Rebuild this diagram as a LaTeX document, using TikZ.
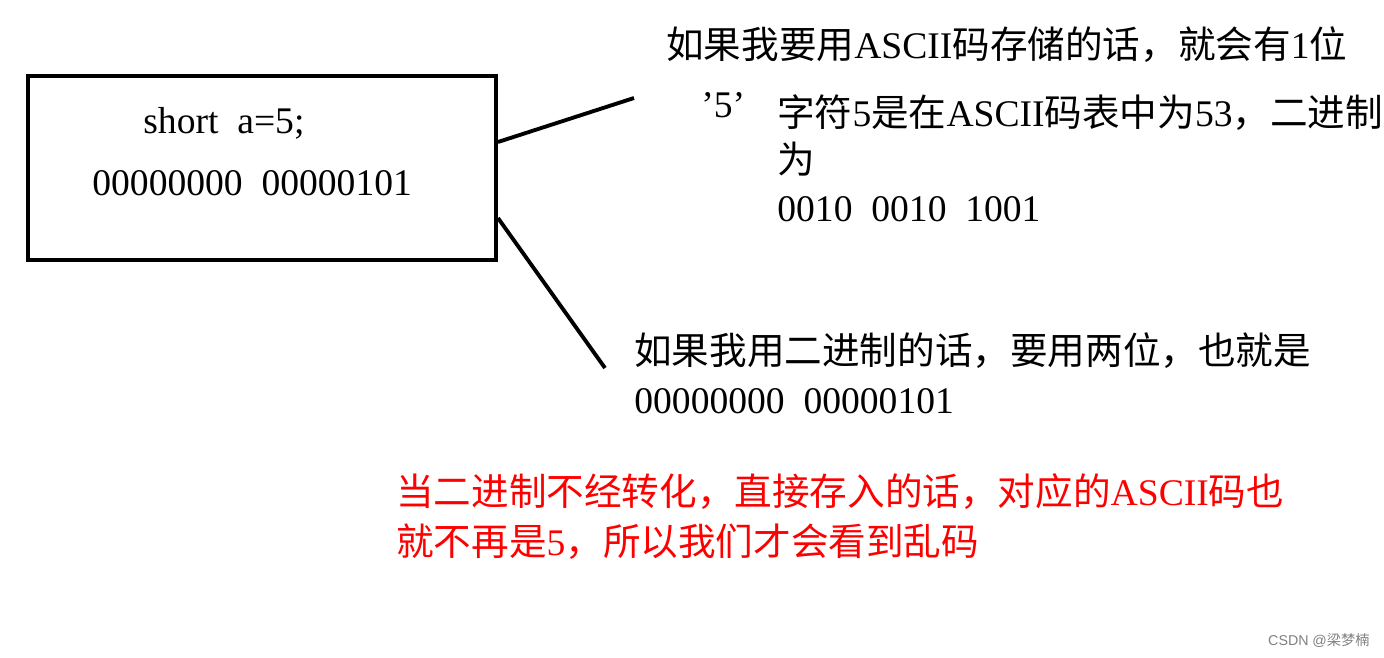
\documentclass[tikz,border=0pt]{standalone}
\usepackage{fontspec}
\setmainfont{Liberation Serif}
\newfontfamily\cjk{Noto Sans CJK SC}
\newfontfamily\markfont{Liberation Sans}
\newcommand\zh[1]{{\cjk #1}}
\usepackage{xcolor}

\begin{document}
\begin{tikzpicture}[x=0.02cm, y=-0.02cm,
    txt/.style={anchor=base west, inner sep=0pt, font={\fontsize{21.4}{26}\selectfont\spaceskip=.5em\relax}},
    link/.style={line width=2.2pt}]
    \useasboundingbox (0,0) rectangle (1384,657);

    % the variable in memory (left side)
    \node[draw, rectangle, line width=2.3pt, inner sep=0pt, minimum width=9.36cm, minimum height=3.68cm] (box) at (262,168) {};
    \node[txt] (decl) at (143,133) {short a=5;};
    \node[txt] (bits) at (92,195) {00000000 00000101};

    % stored as ASCII (upper right)
    \node[txt] (ascii1) at (666,58) {\zh{如果我要用}ASCII\zh{码存储的话，就会有}1\zh{位}};
    \node[txt] (quote5) at (701,117) {’5’};
    \node[txt] (ascii2) at (777,126) {\zh{字符}5\zh{是在}ASCII\zh{码表中为}53\zh{，二进制}};
    \node[txt] (ascii3) at ([yshift=-0.96cm]ascii2.base west) {\zh{为}};
    \node[txt] (ascii4) at ([yshift=-0.96cm]ascii3.base west) {0010 0010 1001};

    % stored as binary (lower right)
    \node[txt] (bin1) at (634,364) {\zh{如果我用二进制的话，要用两位，也就是}};
    \node[txt] (bin2) at ([yshift=-0.98cm]bin1.base west) {00000000 00000101};

    % note in red
    \node[txt, red] (note1) at (396,505) {\zh{当二进制不经转化，直接存入的话，对应的}ASCII\zh{码也}};
    \node[txt, red] (note2) at ([yshift=-1.0cm]note1.base west) {\zh{就不再是}5\zh{，所以我们才会看到乱码}};

    % Connections
    \coordinate (upend) at (634,98);
    \coordinate (downend) at (605,368);
    \draw[link] ([yshift=0.52cm]box.east) -- (upend);
    \draw[link] ([yshift=-1.0cm]box.east) -- (downend);

    \node[anchor=base east, inner sep=0pt, text=gray, font=\markfont\fontsize{8.1}{10}\selectfont] (mark) at (1370,645) {CSDN @\zh{梁梦楠}};
\end{tikzpicture}
\end{document}
